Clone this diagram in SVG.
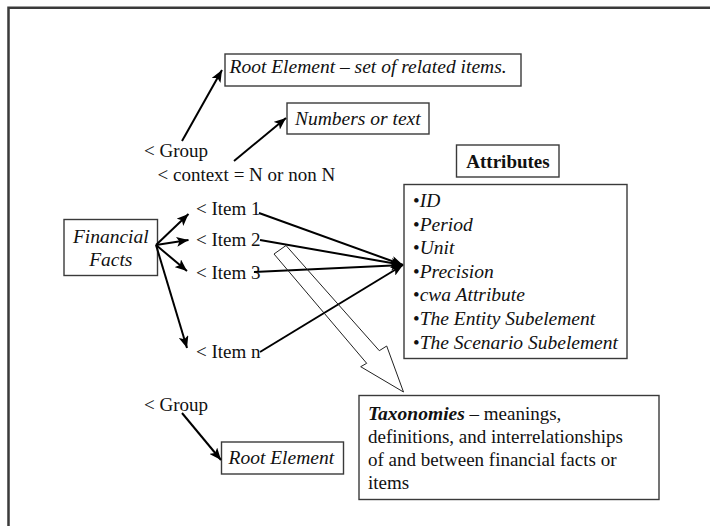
<svg xmlns="http://www.w3.org/2000/svg" width="710" height="526" viewBox="0 0 710 526">
  <style>
    text { font-family: "Liberation Serif", "Times New Roman", serif; font-size: 19px; fill: #111; }
    .it { font-style: italic; font-size: 19.5px; }
    .b { font-weight: bold; }
    .box { fill: #fff; stroke: #3a3a3a; stroke-width: 1.4; }
    .con { fill: none; stroke: #000; stroke-width: 2; marker-end: url(#head); }
    .block { fill: none; stroke: #222; stroke-width: 1; stroke-linejoin: miter; }
  </style>
  <defs>
    <marker id="head" markerUnits="userSpaceOnUse" markerWidth="13" markerHeight="10" refX="12" refY="5" orient="auto">
      <path d="M0,0 L12,5 L0,10 L2.8,5 Z" fill="#000"/>
    </marker>
  </defs>

  <rect width="710" height="526" fill="#fff"/>
  <!-- page frame -->
  <path d="M8.5,526 V7.8 H710" fill="none" stroke="#3a3a3a" stroke-width="2.5"/>

  <g id="root-element-top">
    <rect class="box" x="225" y="54" width="296" height="32"/>
    <text class="it" x="229.5" y="73">Root Element – set of related items.</text>
  </g>

  <g id="numbers-or-text">
    <rect class="box" x="287" y="103" width="142" height="31"/>
    <text class="it" x="295" y="125">Numbers or text</text>
  </g>

  <g id="group-top">
    <text x="144" y="157">&lt; Group</text>
  </g>

  <g id="context">
    <text x="157.5" y="181">&lt; context = N or non N</text>
  </g>

  <g id="attributes-title">
    <rect class="box" x="456.5" y="145" width="102.5" height="32"/>
    <text class="b" x="508" y="168" text-anchor="middle">Attributes</text>
  </g>

  <g id="attributes-list">
    <rect class="box" x="404" y="184.5" width="223" height="174"/>
    <text x="413" y="207">•<tspan class="it">ID</tspan></text>
    <text x="413" y="230.6">•<tspan class="it">Period</tspan></text>
    <text x="413" y="254.2">•<tspan class="it">Unit</tspan></text>
    <text x="413" y="277.8">•<tspan class="it">Precision</tspan></text>
    <text x="413" y="301.4">•<tspan class="it">cwa Attribute</tspan></text>
    <text x="413" y="325">•<tspan class="it">The Entity Subelement</tspan></text>
    <text x="413" y="348.6">•<tspan class="it">The Scenario Subelement</tspan></text>
  </g>

  <g id="financial-facts">
    <rect class="box" x="64" y="219.5" width="93.5" height="56"/>
    <text class="it" x="110.8" y="243.3" text-anchor="middle">Financial</text>
    <text class="it" x="110.8" y="265.5" text-anchor="middle">Facts</text>
  </g>

  <g id="item-1"><text x="196" y="214.5">&lt; Item 1</text></g>
  <g id="item-2"><text x="196" y="246">&lt; Item 2</text></g>
  <g id="item-3"><text x="196" y="279">&lt; Item 3</text></g>
  <g id="item-n"><text x="196" y="358.3">&lt; Item n</text></g>

  <g id="group-bottom">
    <text x="144" y="410.5">&lt; Group</text>
  </g>

  <g id="root-element-bottom">
    <rect class="box" x="221.5" y="442" width="122" height="32"/>
    <text class="it" x="228.5" y="464">Root Element</text>
  </g>

  <g id="taxonomies">
    <rect class="box" x="359" y="395.5" width="300" height="104"/>
    <text x="368" y="420"><tspan class="b it">Taxonomies</tspan> – meanings,</text>
    <text x="368" y="443">definitions, and interrelationships</text>
    <text x="368" y="466">of and between financial facts or</text>
    <text x="368" y="489">items</text>
  </g>

  <g id="connectors">
    <path class="con" d="M182,141 L222,70"/>
    <path class="con" d="M234,161 L286,118"/>
    <path class="con" d="M156,245 L188.5,214"/>
    <path class="con" d="M156,245 L188.5,240"/>
    <path class="con" d="M156,245 L187,271"/>
    <path class="con" d="M156,245 L187,348"/>
    <path class="con" d="M259,213 L403,265"/>
    <path class="con" d="M260,240 L403,265"/>
    <path class="con" d="M254,272 L403,265"/>
    <path class="con" d="M260,352 L403,265"/>
    <path class="con" d="M182,413 L221,460"/>
    <!-- hollow block arrow toward the taxonomies box -->
    <polygon class="block" points="274,254 286,245.5 379.3,350.7 386.7,346 403.5,392 360.7,366.7 366.7,363.3"/>
  </g>
</svg>
